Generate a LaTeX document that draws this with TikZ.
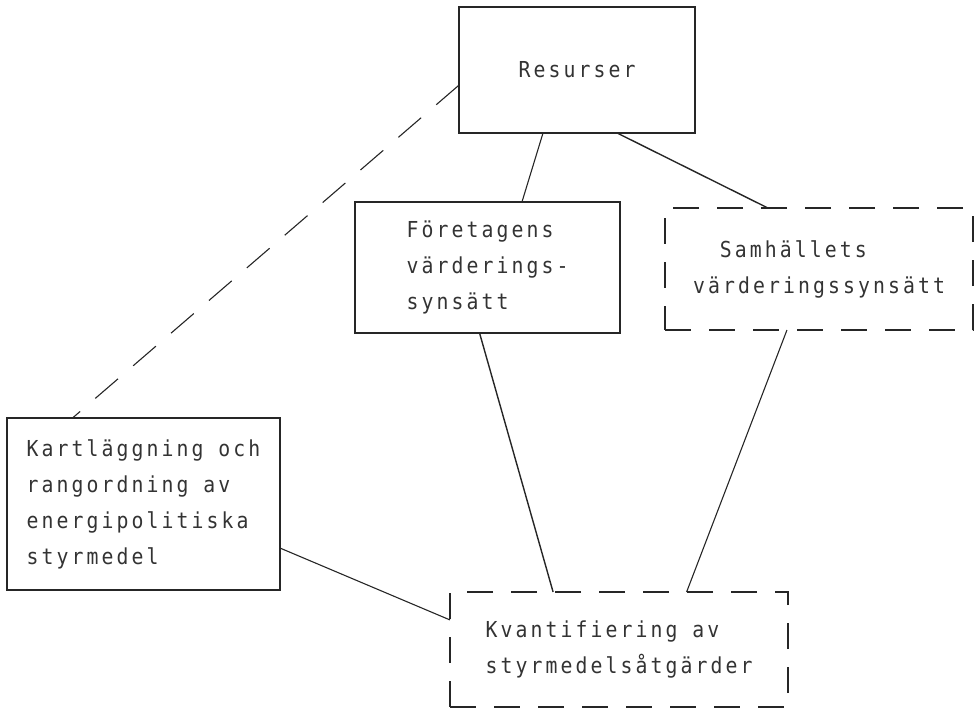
\documentclass[tikz,border=0pt]{standalone}
\usepackage{fontspec}
\usetikzlibrary{calc}
\newfontfamily\typewriter{DejaVu Sans Mono}[FakeStretch=0.9, LetterSpace=14]

\begin{document}
\begin{tikzpicture}[x=1pt, y=-1pt,
        box/.style={draw=black!85, line width=1.4pt, rectangle, outer sep=0pt, inner sep=0pt,
            align=left, text=black!80, font=\typewriter\fontsize{22}{36}\selectfont},
        dashbox/.style={box, dash pattern=on 26pt off 18pt},
        link/.style={draw=black!85, line width=1.1pt},
        dashlink/.style={link, dash pattern=on 30pt off 20pt}]
    \useasboundingbox (0,0) rectangle (978,713);
        \node[box, minimum width=236pt, minimum height=126pt] (res) at (577,70) {Resurser};
        \node[box, line width=2pt, minimum width=265pt, minimum height=131pt] (foretag) at (487.5,267.5) {Företagens\\värderings-\\synsätt};
        \node[dashbox, minimum width=308pt, minimum height=122pt] (samhalle) at (819,269) {\phantom{vä}Samhällets\\värderingssynsätt};
        \node[box, minimum width=273pt, minimum height=172pt] (kart) at (143.5,504) {Kartläggning och\\rangordning av\\energipolitiska\\styrmedel};
        \node[dashbox, minimum width=338pt, minimum height=115pt] (kvant) at (619,649.5) {Kvantifiering av\\styrmedelsåtgärder};
        % Resurser
        \draw[link] ($(res.south west)!0.356!(res.south east)$) -- ($(foretag.north west)!0.63!(foretag.north east)$);
        \draw[link, line width=1.4pt] ($(res.south west)!0.67!(res.south east)$) -- ($(samhalle.north west)!0.334!(samhalle.north east)$);
        \draw[dashlink] ($(res.north west)!0.62!(res.south west)$) -- ($(kart.north west)!0.24!(kart.north east)$);
        % Kvantifiering
        \draw[link, line width=1.4pt] ($(foretag.south west)!0.47!(foretag.south east)$) -- ($(kvant.north west)!0.305!(kvant.north east)$);
        \draw[link] ($(samhalle.south west)!0.396!(samhalle.south east)$) -- ($(kvant.north west)!0.70!(kvant.north east)$);
        \draw[link] ($(kart.north east)!0.756!(kart.south east)$) -- ($(kvant.north west)!0.243!(kvant.south west)$);
    \end{tikzpicture}
\end{document}
